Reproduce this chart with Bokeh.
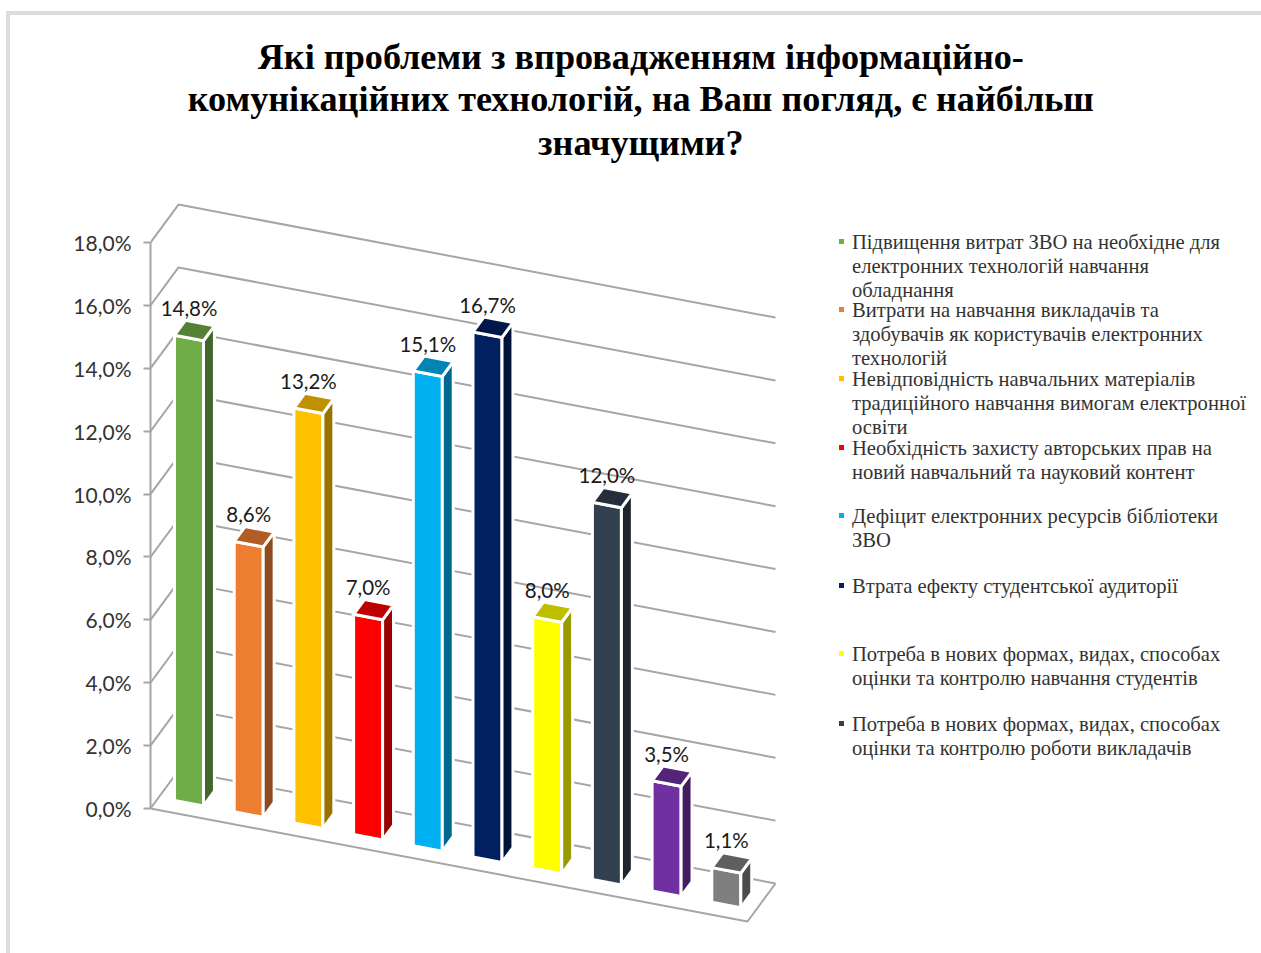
from bokeh.embed import file_html
from bokeh.resources import INLINE
from bokeh.plotting import figure
from bokeh.models import Range1d, FixedTicker
from bokeh.core.properties import value

title_lines = ["Які проблеми з впровадженням інформаційно-",
               "комунікаційних технологій, на Ваш погляд, є найбільш",
               "значущими?"]
values = [14.8, 8.6, 13.2, 7.0, 15.1, 16.7, 8.0, 12.0, 3.5, 1.1]
value_labels = ["14,8%", "8,6%", "13,2%", "7,0%", "15,1%", "16,7%", "8,0%", "12,0%", "3,5%", "1,1%"]
colors = ["#70AD47", "#ED7D31", "#FFC000", "#FF0000", "#00B0F0",
          "#002060", "#FFFF00", "#323F4F", "#7030A0", "#7F7F7F"]
tick_values = [0, 2, 4, 6, 8, 10, 12, 14, 16, 18]
tick_labels = ["0,0%", "2,0%", "4,0%", "6,0%", "8,0%", "10,0%", "12,0%", "14,0%", "16,0%", "18,0%"]
legend_entries = [
    ["Підвищення витрат ЗВО на необхідне для", "електронних технологій навчання", "обладнання"],
    ["Витрати на навчання викладачів та", "здобувачів як користувачів електронних", "технологій"],
    ["Невідповідність навчальних матеріалів", "традиційного навчання вимогам електронної", "освіти"],
    ["Необхідність захисту авторських прав на", "новий навчальний та науковий контент"],
    ["Дефіцит електронних ресурсів бібліотеки", "ЗВО"],
    ["Втрата ефекту студентської аудиторії"],
    ["Потреба в нових формах, видах, способах", "оцінки та контролю навчання студентів"],
    ["Потреба в нових формах, видах, способах", "оцінки та контролю роботи викладачів"],
]
legend_tops = [241, 309, 378, 447, 515, 585, 653, 723]

# layout (page pixels)
W, H = 1261, 953
X0, Y0 = 150, 808            # front-left corner of the floor at 0 %
CAT_PX, VAL_PX = 59.7, 31.44 # one category / one percent
DX, DY = 28 / CAT_PX, 38 / VAL_PX  # depth vector of the chart box
SLOPE = 11.3 / VAL_PX        # drop of the floor per category
N = len(values)

def proj(c, d, v):
    return c + d * DX, v - c * SLOPE + d * DY

def px(x, y):
    return (x - X0) / CAT_PX, (Y0 - y) / VAL_PX

def shade(col, f):
    r, g, b = (int(col[i:i + 2], 16) for i in (1, 3, 5))
    return "#%02x%02x%02x" % (int(r * f), int(g * f), int(b * f))

FRAME = "#dcdcdc"
p = figure(width=W, height=H, output_backend="svg", toolbar_location=None,
           x_range=Range1d(0, (W - X0) / CAT_PX),
           y_range=Range1d((Y0 - H) / VAL_PX, Y0 / VAL_PX),
           min_border_left=X0, min_border_right=0, min_border_top=0, min_border_bottom=0,
           outline_line_color=None, background_fill_color=None, border_fill_color=None)
# the thin picture frame sits behind the transparent plot
p.styles = {"background": (f"linear-gradient({FRAME},{FRAME}) 6px 11px/4px 100% no-repeat,"
                           f"linear-gradient({FRAME},{FRAME}) 6px 11px/100% 4px no-repeat")}
p.grid.visible = False
p.xaxis.visible = False
ax = p.yaxis[0]
ax.ticker = FixedTicker(ticks=tick_values)
ax.major_label_overrides = dict(zip(tick_values, tick_labels))
ax.bounds = (tick_values[0], tick_values[-1])
ax.axis_line_color = "#a6a6a6"
ax.axis_line_width = 2
ax.major_tick_line_color = "#a6a6a6"
ax.major_tick_line_width = 2
ax.major_tick_out = 7
ax.major_tick_in = 0
ax.minor_tick_line_color = None
ax.major_label_standoff = 12
ax.major_label_text_font = "Lato"
ax.major_label_text_font_size = "21px"
ax.major_label_text_color = "#333333"

GRID = "#a6a6a6"
# walls and floor
for t in tick_values:
    xs, ys = zip(proj(0, 0, t), proj(0, 1, t), proj(N, 1, t))
    p.line(list(xs), list(ys), line_color=GRID, line_width=2)
xs, ys = zip(proj(0, 0, 0), proj(N, 0, 0), proj(N, 1, 0))
p.line(list(xs), list(ys), line_color=GRID, line_width=2)

# bars
C0, CW, D0, D1 = 0.266, 0.486, 0.29, 0.68
fx, fy, fc = [], [], []
for k, (val, col) in enumerate(zip(values, colors)):
    c0, c1 = k + C0, k + C0 + CW
    faces = [
        ([(c0, D0, 0), (c1, D0, 0), (c1, D0, val), (c0, D0, val)], col),
        ([(c1, D0, 0), (c1, D1, 0), (c1, D1, val), (c1, D0, val)], shade(col, 0.6)),
        ([(c0, D0, val), (c1, D0, val), (c1, D1, val), (c0, D1, val)], shade(col, 0.75)),
    ]
    for pts, fill in faces:
        xy = [proj(*q) for q in pts]
        fx.append([a for a, _ in xy])
        fy.append([b for _, b in xy])
        fc.append(fill)
p.patches(fx, fy, fill_color=fc, line_color="white", line_width=3, line_join="miter")

# data labels
lx = [proj(k + C0 + CW / 2, D0, v)[0] for k, v in enumerate(values)]
ly = [proj(k + C0 + CW / 2, D1, v)[1] + 0.48 for k, v in enumerate(values)]
p.text(lx, ly, text=value_labels, text_font=value("Lato"), text_font_size="20.5px",
       text_color="#1a1a1a", text_align="center", text_baseline="middle")

# title
for line, yy in zip(title_lines, [56, 98, 142]):
    tx, ty = px(640.3, yy)
    p.text([tx], [ty], text=[line], text_font=value("Liberation Serif"), text_font_size="36.2px",
           text_font_style="bold", text_color="#000000", text_align="center", text_baseline="middle")

# legend
LEGEND_DY = 24.2
mx, my, mc, tx, ty, tt = [], [], [], [], [], []
for entry, top, col in zip(legend_entries, legend_tops, colors):
    a, b = px(841, top)
    mx.append(a); my.append(b); mc.append(col)
    for i, line in enumerate(entry):
        a, b = px(851.5, top + i * LEGEND_DY)
        tx.append(a); ty.append(b); tt.append(line)
p.scatter(mx, my, marker="square", size=5, fill_color=mc, line_color=None)
p.text(tx, ty, text=tt, text_font=value("Liberation Serif"), text_font_size="20.6px",
       text_color="#333333", text_align="left", text_baseline="middle")

open("out.html", "w").write(file_html(p, INLINE))
